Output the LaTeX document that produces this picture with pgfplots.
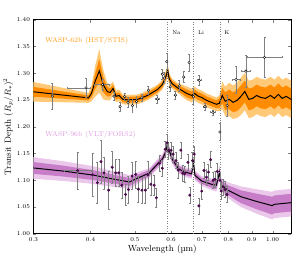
\documentclass[border=0pt]{standalone}
\usepackage{pgfplots}
\usepackage{pgfplotstable}
\pgfplotsset{compat=1.18}
\usepgfplotslibrary{fillbetween}

\definecolor{or1}{HTML}{FF8C00}
\definecolor{or2}{HTML}{FFC978}
\definecolor{pu1}{HTML}{C77DC7}
\definecolor{pu2}{HTML}{EBC8EB}
\definecolor{ptpu}{HTML}{4B0A4B}
\definecolor{otxt}{HTML}{FF9A10}
\definecolor{ptxt}{HTML}{DE9BDE}
\definecolor{ebar}{HTML}{808080}

% WASP-62b model (x, y, half-widths of 1 and 2 sigma bands in px of 543.75/unit)
\pgfplotstableread{
x y d1 d2
0.3000 1.2652 5 10
0.3958 1.2538 2.5 5
0.4018 1.2621 4 8
0.4098 1.2860 8 16
0.4180 1.3044 12 22
0.4264 1.2786 8 15
0.4349 1.2657 5 9
0.4414 1.2639 4 8
0.4480 1.2713 4 7
0.4547 1.2566 3.5 6
0.4615 1.2584 3 6
0.4707 1.2510 3 5
0.4826 1.2501 3 5
0.5071 1.2510 3 5
0.5329 1.2584 3 5
0.5600 1.2694 3 5
0.5741 1.2786 3 5
0.5854 1.2952 3.5 6
0.5896 1.3062 4 7
0.5940 1.2897 3.5 6
0.6029 1.2805 3 5
0.6185 1.2731 3 5
0.6334 1.2676 3.5 6
0.6491 1.2621 4 7
0.6653 1.2584 4 7
0.6754 1.2621 4 7
0.6858 1.2575 4 7
0.6995 1.2547 4 7
0.7170 1.2492 4 7
0.7351 1.2455 4 7
0.7534 1.2418 4 7
0.7649 1.2437 5 8
0.7761 1.2584 8 14
0.7878 1.2474 9 15
0.8035 1.2510 10 17
0.8195 1.2455 10 17
0.8359 1.2492 11 18
0.8525 1.2566 11 19
0.8696 1.2657 11 19
0.8870 1.2510 11 19
0.9046 1.2529 11 19
0.9227 1.2584 11 19
0.9411 1.2547 11 19
0.9648 1.2529 11 19
0.9891 1.2584 11 19
1.0090 1.2529 11 19
1.0292 1.2603 11 19
1.0498 1.2529 11 19
1.0708 1.2566 11 19
1.0976 1.2510 11 19
}\modelA

% WASP-62b data
\pgfplotstableread{
x y xm xp ey
0.330 1.2570 0 0 0.025
0.391 1.2725 0.036 0.009 0.018
0.425 1.2786 0.018 0.015 0.010
0.450 1.2570 0 0 0.007
0.464 1.2376 0 0 0.008
0.475 1.2560 0 0 0.006
0.483 1.2455 0 0 0.010
0.494 1.2394 0 0 0.012
0.504 1.2468 0 0 0.010
0.518 1.2540 0 0 0.007
0.535 1.2680 0 0 0.008
0.560 1.2516 0.006 0.006 0.007
0.574 1.2980 0 0 0.010
0.580 1.2910 0 0 0.010
0.587 1.3215 0 0 0.015
0.597 1.2744 0 0 0.008
0.613 1.2590 0 0 0.008
0.625 1.2762 0 0 0.010
0.639 1.2927 0 0 0.010
0.657 1.3200 0 0 0.016
0.671 1.2560 0 0 0.015
0.691 1.2866 0.006 0.006 0.010
0.711 1.2376 0.006 0.006 0.007
0.741 1.2266 0.010 0.010 0.005
0.767 1.1900 0 0 0.016
0.7955 1.2394 0 0 0.020
0.832 1.2880 0.017 0.017 0.025
0.874 1.3038 0.018 0.018 0.030
0.960 1.3296 0.080 0.090 0.037
}\dataA

% WASP-96b model
\pgfplotstableread{
x y d1 d2
0.3000 1.1228 6 11
0.3498 1.1168 5.5 10
0.4057 1.1094 5 9
0.4480 1.1021 4.5 8
0.4866 1.0966 4 7
0.5071 1.1039 3.5 6
0.5371 1.1130 3 5
0.5462 1.1200 3 5
0.5741 1.1394 3 5
0.5854 1.1549 3 5
0.5890 1.1701 3 5
0.5932 1.1578 3 5
0.6029 1.1394 3 5
0.6234 1.1210 3 5
0.6439 1.1150 3 5
0.6653 1.1118 3 5
0.6713 1.1333 3 5
0.6765 1.1089 3 5
0.6995 1.0984 3 5
0.7351 1.0923 3.5 6
0.7534 1.0905 4 6.5
0.7660 1.1150 4 7
0.7723 1.0905 4.5 7
0.7982 1.0813 5 8
0.8525 1.0690 6.5 10.5
0.9259 1.0598 8 12.5
0.9974 1.0524 9 14
1.0090 1.0548 9 14
1.0976 1.0579 9 14
}\modelB

% WASP-96b data
\pgfplotstableread{
x y xm xp ey
0.375 1.1180 0.025 0.026 0.035
0.404 1.1100 0 0 0.040
0.414 1.0953 0 0 0.038
0.4215 1.1346 0 0 0.040
0.428 1.1137 0 0 0.030
0.438 1.0813 0 0 0.036
0.446 1.1241 0 0 0.030
0.454 1.1137 0 0 0.025
0.461 1.1137 0 0 0.025
0.468 1.0905 0 0 0.025
0.477 1.0732 0 0 0.020
0.484 1.0824 0 0 0.025
0.493 1.1076 0 0 0.025
0.502 1.1107 0 0 0.025
0.509 1.0830 0 0 0.025
0.518 1.0813 0 0 0.025
0.527 1.0813 0 0 0.025
0.534 1.1100 0 0 0.025
0.542 1.0923 0 0 0.020
0.551 1.0905 0 0 0.018
0.557 1.0671 0 0 0.018
0.566 1.1315 0 0 0.015
0.574 1.1223 0 0 0.015
0.582 1.1578 0 0 0.015
0.588 1.1700 0 0 0.015
0.592 1.1550 0 0 0.015
0.600 1.1560 0 0 0.015
0.606 1.1486 0 0 0.015
0.615 1.1365 0 0 0.015
0.622 1.1190 0 0 0.015
0.630 1.1560 0 0 0.015
0.636 1.1131 0 0 0.015
0.642 1.1119 0 0 0.015
0.653 1.1333 0 0 0.015
0.659 1.0721 0 0 0.015
0.668 1.1365 0 0 0.015
0.674 1.1486 0 0 0.015
0.690 1.0519 0 0 0.015
0.700 1.0795 0 0 0.015
0.708 1.1180 0 0 0.015
0.717 1.1057 0 0 0.015
0.724 1.1150 0 0 0.015
0.732 1.1383 0 0 0.015
0.741 1.0997 0 0 0.015
0.748 1.1015 0 0 0.015
0.757 1.1162 0 0 0.015
0.767 1.0997 0 0 0.015
0.772 1.0795 0 0 0.015
0.780 1.0874 0 0 0.015
0.787 1.0824 0 0 0.015
0.795 1.0732 0 0 0.015
}\dataB

\begin{document}
\begin{tikzpicture}
\begin{axis}[
  width=262pt, height=217.5pt, scale only axis,
  xmode=log, xmin=0.3, xmax=1.0976, ymin=1.0, ymax=1.4,
  xtick={0.3,0.4,0.5,0.6,0.7,0.8,0.9,1.0},
  xticklabels={0.3,0.4,0.5,0.6,0.7,0.8,0.9,1.00},
  minor xtick={},
  ytick={1.00,1.05,1.10,1.15,1.20,1.25,1.30,1.35,1.40},
  yticklabel style={/pgf/number format/fixed,/pgf/number format/precision=2,/pgf/number format/fixed zerofill},
  scaled y ticks=false,
  tick label style={font=\fontsize{6}{7}\selectfont},
  tick align=inside, major tick length=3pt,
  axis line style={line width=0.8pt},
  xlabel={Wavelength (µm)}, ylabel={Transit Depth $(R_p/R_\ast)^2$},
  label style={font=\fontsize{9}{10}\selectfont},
  xlabel style={yshift=3pt}, ylabel style={yshift=-3pt},
  error bars/error bar style={ebar, line width=0.5pt},
  error bars/error mark options={rotate=90, mark size=1pt, ebar, line width=0.5pt},
]
% WASP-62b bands
\addplot[name path=au2, draw=none, forget plot] table[x=x, y expr=\thisrow{y}+\thisrow{d2}/543.75] {\modelA};
\addplot[name path=al2, draw=none, forget plot] table[x=x, y expr=\thisrow{y}-\thisrow{d2}/543.75] {\modelA};
\addplot[or2, draw=none] fill between[of=au2 and al2];
\addplot[name path=au1, draw=none, forget plot] table[x=x, y expr=\thisrow{y}+\thisrow{d1}/543.75] {\modelA};
\addplot[name path=al1, draw=none, forget plot] table[x=x, y expr=\thisrow{y}-\thisrow{d1}/543.75] {\modelA};
\addplot[or1, draw=none] fill between[of=au1 and al1];
\addplot[black, line width=1pt, no marks] table[x=x, y=y] {\modelA};
% WASP-96b bands
\addplot[name path=bu2, draw=none, forget plot] table[x=x, y expr=\thisrow{y}+\thisrow{d2}/543.75] {\modelB};
\addplot[name path=bl2, draw=none, forget plot] table[x=x, y expr=\thisrow{y}-\thisrow{d2}/543.75] {\modelB};
\addplot[pu2, draw=none] fill between[of=bu2 and bl2];
\addplot[name path=bu1, draw=none, forget plot] table[x=x, y expr=\thisrow{y}+\thisrow{d1}/543.75] {\modelB};
\addplot[name path=bl1, draw=none, forget plot] table[x=x, y expr=\thisrow{y}-\thisrow{d1}/543.75] {\modelB};
\addplot[pu1, draw=none] fill between[of=bu1 and bl1];
\addplot[black, line width=1pt, no marks] table[x=x, y=y] {\modelB};
% element lines
\addplot[gray, dotted, line width=0.5pt] coordinates {(0.589,1.0) (0.589,1.4)};
\addplot[gray, dotted, line width=0.5pt] coordinates {(0.671,1.0) (0.671,1.4)};
\addplot[gray, dotted, line width=0.5pt] coordinates {(0.767,1.0) (0.767,1.4)};
% data
\addplot[only marks, mark=*, mark size=1.3pt, mark options={fill=white, draw=black, line width=0.4pt},
  error bars/.cd, x dir=both, x explicit, y dir=both, y explicit]
  table[x=x, y=y, x error minus=xm, x error plus=xp, y error=ey] {\dataA};
\addplot[only marks, mark=*, mark size=1.3pt, mark options={fill=ptpu, draw=ptpu},
  error bars/.cd, x dir=both, x explicit, y dir=both, y explicit]
  table[x=x, y=y, x error minus=xm, x error plus=xp, y error=ey] {\dataB};
% annotations
\node[anchor=west, font=\fontsize{5.5}{6}\selectfont] at (axis cs:0.593,1.376) {Na};
\node[anchor=west, font=\fontsize{5.5}{6}\selectfont] at (axis cs:0.675,1.376) {Li};
\node[anchor=west, font=\fontsize{5.5}{6}\selectfont] at (axis cs:0.771,1.376) {K};
\node[anchor=west, text=otxt, font=\fontsize{7}{8}\selectfont, inner sep=0pt] at (axis cs:0.318,1.3614) {WASP-62b (HST/STIS)};
\node[anchor=west, text=ptxt, font=\fontsize{7}{8}\selectfont, inner sep=0pt] at (axis cs:0.318,1.1848) {WASP-96b (VLT/FORS2)};
\node[anchor=south west, font=\fontsize{5}{5}\selectfont, inner sep=0.5pt] at (rel axis cs:0,1) {$\times10^{-2}$};
\end{axis}
\path (-29pt,-23.5pt) rectangle (270pt,237.5pt);
\end{tikzpicture}
\end{document}
